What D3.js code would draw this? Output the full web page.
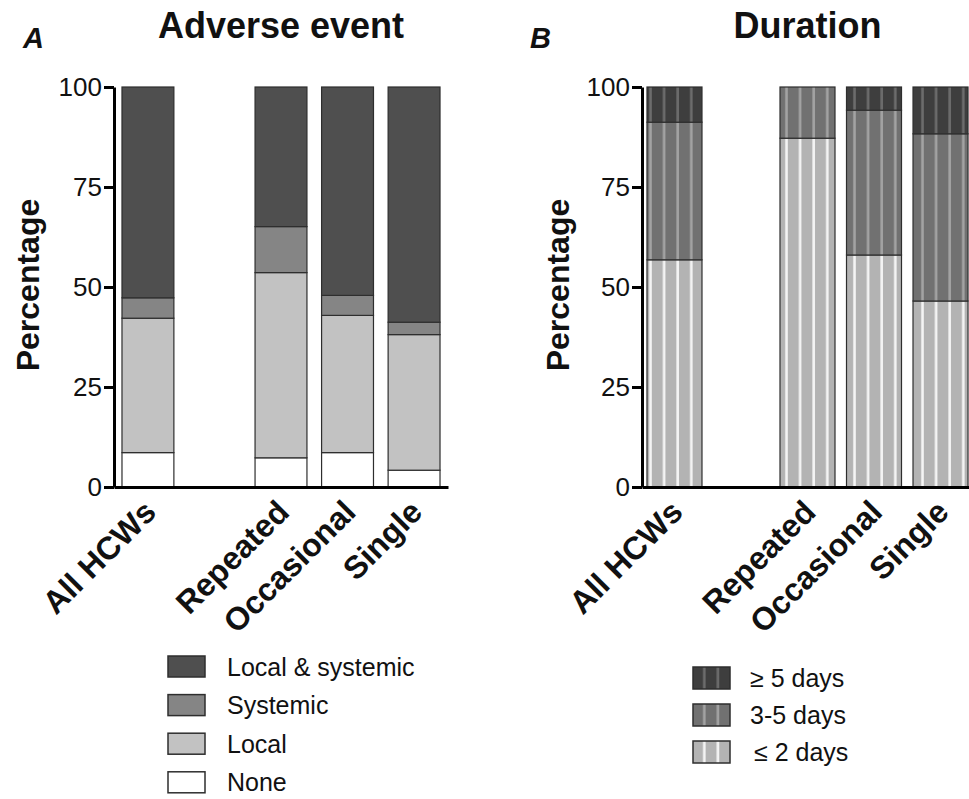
<!DOCTYPE html>
<html>
<head>
<meta charset="utf-8">
<style>
html, body { margin: 0; padding: 0; background: #fff; }
svg { display: block; }
text { font-family: "Liberation Sans", Arial, Helvetica, sans-serif; fill: #111; }
</style>
</head>
<body>
<svg width="969" height="799"></svg>
<script src="https://cdn.jsdelivr.net/npm/d3@7"></script>
<script>
// categories (a blank slot separates "All HCWs" from the subgroups)
var categories = ["All HCWs", "Repeated", "Occasional", "Single"];
var slotOrder = ["All HCWs", "", "Repeated", "Occasional", "Single"];
var yTicks = [0, 25, 50, 75, 100];

// panel A: adverse event, % per category (stacked bottom -> top)
var adverseKeys = ["None", "Local", "Systemic", "Local & systemic"];
var aeNone = [8.6, 7.3, 8.6, 4.2];
var aeLocal = [33.6, 46.3, 34.3, 33.9];
var aeSystemic = [5.1, 11.5, 5.0, 3.1];
var aeBoth = [52.7, 34.9, 52.1, 58.8];

// panel B: duration, % per category (stacked bottom -> top)
var durationKeys = ["\u2264 2 days", "3-5 days", "\u2265 5 days"];
var durShort = [56.8, 87.2, 58.0, 46.5];
var durMid = [34.4, 12.8, 36.2, 41.8];
var durLong = [8.8, 0, 5.8, 11.7];

var svg = d3.select("svg");
var defs = svg.append("defs");

// striped fills for panel B
var stripes = [
  {id: "st-short", base: "#b3b3b3", line: "#f4f4f4"},
  {id: "st-mid", base: "#717171", line: "#a3a3a3"},
  {id: "st-long", base: "#3e3e3e", line: "#6c6c6c"}
];
stripes.forEach(function(s) {
  var p = defs.append("pattern")
      .attr("id", s.id)
      .attr("patternUnits", "userSpaceOnUse")
      .attr("x", 0).attr("y", 0)
      .attr("width", 13.6).attr("height", 20);
  p.append("rect").attr("width", 13.6).attr("height", 20).attr("fill", s.base);
  p.append("rect").attr("x", 10).attr("width", 2.6).attr("height", 20).attr("fill", s.line);
});

function drawPanel(o) {
  var x = d3.scaleBand()
      .domain(slotOrder)
      .range(o.xRange)
      .paddingInner(o.padIn)
      .paddingOuter(o.padOut);
  var y = d3.scaleLinear().domain([0, 100]).range([487, 87]);

  var rows = categories.map(function(c, i) {
    var r = {cat: c};
    o.keys.forEach(function(k, j) { r[k] = o.series[j][i]; });
    return r;
  });
  var stacked = d3.stack().keys(o.keys)(rows);

  var g = svg.append("g");
  g.selectAll("g.layer")
    .data(stacked)
    .join("g")
      .attr("class", "layer")
      .attr("fill", function(d, j) { return o.fills[j]; })
    .selectAll("rect")
    .data(function(d) { return d.filter(function(v) { return v[1] - v[0] > 0; }); })
    .join("rect")
      .attr("x", function(d) { return x(d.data.cat); })
      .attr("width", x.bandwidth())
      .attr("y", function(d) { return y(d[1]); })
      .attr("height", function(d) { return y(d[0]) - y(d[1]); })
      .attr("stroke", "#2e2e2e")
      .attr("stroke-width", 1.2);

  // y axis
  var ya = g.append("g")
      .attr("transform", "translate(" + o.xRange[0] + ",0)")
      .call(d3.axisLeft(y).tickValues(yTicks).tickSize(10).tickSizeOuter(0).tickPadding(2));
  ya.select(".domain").attr("stroke", "#000").attr("stroke-width", 3);
  ya.selectAll(".tick line").attr("stroke", "#000").attr("stroke-width", 3);
  ya.selectAll(".tick text").style("font-size", "26px").attr("fill", "#111");

  // x axis
  var xa = g.append("g")
      .attr("transform", "translate(0,487)")
      .call(d3.axisBottom(x).tickValues(categories).tickSize(0).tickSizeOuter(0));
  xa.select(".domain").attr("stroke", "#000").attr("stroke-width", 3);
  xa.selectAll(".tick text")
      .attr("x", 0).attr("y", 0).attr("dy", 0)
      .attr("text-anchor", "end")
      .attr("transform", "translate(10,27) rotate(-45)")
      .style("font-size", "32px")
      .style("font-weight", "bold")
      .attr("fill", "#111");

  // axis title
  g.append("text")
      .attr("transform", "translate(" + o.yTitleX + ",285) rotate(-90)")
      .attr("text-anchor", "middle")
      .attr("dy", "0.35em")
      .style("font-size", "32px")
      .style("font-weight", "bold")
      .text("Percentage");

  // panel title and letter
  g.append("text")
      .attr("x", (o.xRange[0] + o.xRange[1]) / 2)
      .attr("y", 38)
      .attr("text-anchor", "middle")
      .style("font-size", "36px")
      .style("font-weight", "bold")
      .text(o.title);
  g.append("text")
      .attr("x", o.letterX)
      .attr("y", 48)
      .style("font-size", "29px")
      .style("font-weight", "bold")
      .style("font-style", "italic")
      .text(o.letter);

  // legend (top entry = top of stack)
  var leg = g.append("g");
  var items = o.keys.map(function(k, j) { return {key: k, fill: o.fills[j]}; }).reverse();
  var li = leg.selectAll("g")
    .data(items)
    .join("g")
      .attr("transform", function(d, i) { return "translate(" + o.legX + "," + (o.legY + i * o.legStep) + ")"; });
  li.append("rect")
      .attr("width", 37).attr("height", o.legBoxH)
      .attr("fill", function(d) { return d.fill; })
      .attr("stroke", "#2e2e2e")
      .attr("stroke-width", 1.5);
  li.append("text")
      .attr("x", function(d, i) { return o.legTextX + (o.legTextShift ? o.legTextShift[i] : 0); })
      .attr("y", o.legBoxH / 2)
      .attr("dy", "0.36em")
      .style("font-size", "25px")
      .text(function(d) { return d.key; });
}

drawPanel({
  title: "Adverse event", letter: "A", letterX: 23,
  keys: adverseKeys,
  series: [aeNone, aeLocal, aeSystemic, aeBoth],
  fills: ["#ffffff", "#c2c2c2", "#858585", "#4f4f4f"],
  xRange: [114, 448], padIn: 0.22, padOut: 0.12,
  yTitleX: 28,
  legX: 168, legY: 656, legStep: 38.6, legBoxH: 21, legTextX: 59
});

drawPanel({
  title: "Duration", letter: "B", letterX: 530,
  keys: durationKeys,
  series: [durShort, durMid, durLong],
  fills: ["url(#st-short)", "url(#st-mid)", "url(#st-long)"],
  xRange: [642, 973], padIn: 0.173, padOut: 0.075,
  yTitleX: 558,
  legX: 693, legY: 667, legStep: 37, legBoxH: 22, legTextX: 57, legTextShift: [0, 0, 4]
});
</script>
</body>
</html>
